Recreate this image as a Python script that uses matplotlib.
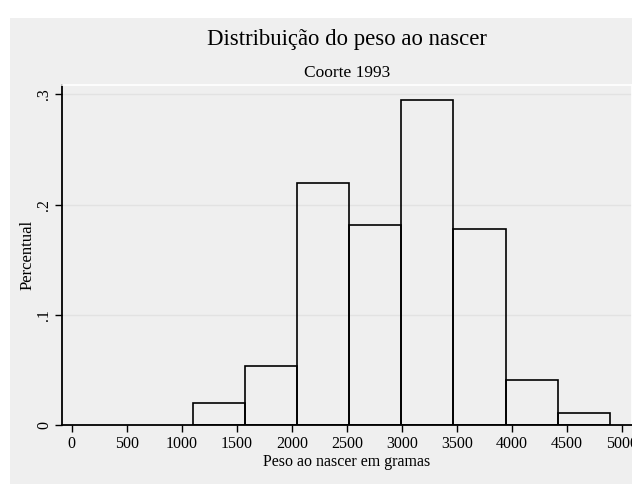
# Import libraries
import numpy as np
import matplotlib.pyplot as plt
from matplotlib.patches import Rectangle

# Histogram data: bin edges in grams and fraction of births in each bin
bin_edges = [1100, 1574, 2048, 2522, 2996, 3470, 3944, 4418, 4892]
fractions = [0.0202, 0.0533, 0.2196, 0.1815, 0.2949, 0.1776, 0.0411, 0.0112]

# Axis ticks
x_ticks = [0, 500, 1000, 1500, 2000, 2500, 3000, 3500, 4000, 4500, 5000]
y_ticks = [0, 0.1, 0.2, 0.3]
y_tick_labels = ["0", ".1", ".2", ".3"]

bg = "#EFEFEF"
plt.rcParams["font.family"] = ["Liberation Serif", "DejaVu Serif"]

fig = plt.figure(figsize=(6.32, 4.84), dpi=100, facecolor="white")
# Gray graph region (white margin on left and top like the original export)
fig.patches.append(Rectangle((10 / 632, 0), 1, 1 - 18 / 484, transform=fig.transFigure,
                             facecolor=bg, edgecolor="none", zorder=-10))

ax = fig.add_axes([61.7 / 632, 59 / 484, (632 - 61.7) / 632, 340 / 484])
ax.set_facecolor(bg)

# Draw bars
widths = np.diff(bin_edges)
ax.bar(bin_edges[:-1], fractions, width=widths, align="edge",
       facecolor="none", edgecolor="black", linewidth=1.2, zorder=3)

ax.set_xlim(-92, 5093)
ax.set_ylim(0, 0.3085)

# Grid lines
for y in y_ticks[1:]:
    ax.axhline(y, color="#E2E2E2", linewidth=1, zorder=1)

ax.set_xticks(x_ticks)
ax.set_xticklabels([str(v) for v in x_ticks], fontsize=11.5)
ax.set_yticks(y_ticks)
ax.set_yticklabels(y_tick_labels, fontsize=11.5, rotation=90, va="center")
ax.tick_params(axis="both", direction="out", length=5, width=1, color="black")
ax.tick_params(axis="x", pad=3)
ax.tick_params(axis="y", pad=2)

for side in ["top", "right"]:
    ax.spines[side].set_color("white")
    ax.spines[side].set_linewidth(1.2)
for side in ["left", "bottom"]:
    ax.spines[side].set_color("black")
    ax.spines[side].set_linewidth(1.3)

ax.set_xlabel("Peso ao nascer em gramas", fontsize=11.5, labelpad=1)
ax.set_ylabel("Percentual", fontsize=12, labelpad=0.5)

# Title and subtitle
fig.text(347 / 632, 1 - 39 / 484, "Distribuição do peso ao nascer",
         ha="center", va="center", fontsize=16.4)
fig.text(347 / 632, 1 - 73 / 484, "Coorte 1993", ha="center", va="center", fontsize=12.5)

plt.savefig("out.png", dpi=100, facecolor=fig.get_facecolor())
